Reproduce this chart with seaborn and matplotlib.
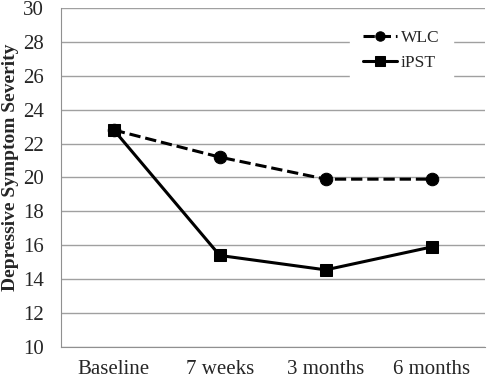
import pandas as pd
import matplotlib.pyplot as plt
import seaborn as sns

# Data
timepoints = ['Baseline', '7 weeks', '3 months', '6 months']
wlc = [22.8, 21.2, 19.9, 19.9]
ipst = [22.8, 15.4, 14.55, 15.9]

df = pd.DataFrame({
    'time': timepoints * 2,
    'score': wlc + ipst,
    'group': ['WLC'] * 4 + ['iPST'] * 4,
})

sns.set_style('white')
plt.rcParams['font.family'] = ['Liberation Serif', 'DejaVu Serif']

fig, ax = plt.subplots(figsize=(4.87, 3.78), dpi=100)

sns.lineplot(data=df[df['group'] == 'WLC'], x='time', y='score', ax=ax,
             color='black', linestyle='--', dashes=(3, 2.2), marker='o', markersize=9,
             markeredgecolor='black', linewidth=2.2, label='WLC', sort=False)
sns.lineplot(data=df[df['group'] == 'iPST'], x='time', y='score', ax=ax,
             color='black', linestyle='-', marker='s', markersize=9,
             markeredgecolor='black', linewidth=2.2, label='iPST', sort=False)

ax.set_ylim(10, 30)
ax.set_yticks(range(10, 31, 2))
ax.set_xlim(-0.5, 3.5)
ax.yaxis.grid(True, color='#a0a0a0', linewidth=1)
ax.set_axisbelow(True)
for s in ['top', 'right']:
    ax.spines[s].set_visible(False)
for s in ['left', 'bottom']:
    ax.spines[s].set_color('#909090')
ax.tick_params(axis='both', labelsize=15, length=0)
ax.tick_params(axis='y', pad=12)
ax.tick_params(axis='x', pad=9)
ax.set_xlabel('')
ax.set_ylabel('Depressive Symptom Severity', fontsize=14, fontweight='bold')
ax.yaxis.set_label_coords(-0.100, 0.53)

leg = ax.legend(loc='upper right', bbox_to_anchor=(0.945, 1.0), frameon=True,
                fontsize=12.5, handlelength=1.95, handletextpad=0.25, borderpad=0.75,
                labelspacing=0.5, markerscale=0.75)
leg.get_frame().set_edgecolor('white')
leg.get_frame().set_facecolor('white')
leg.get_frame().set_alpha(1)

plt.subplots_adjust(left=0.125, right=0.995, top=0.979, bottom=0.082)
fig.savefig('out.png', dpi=100)
